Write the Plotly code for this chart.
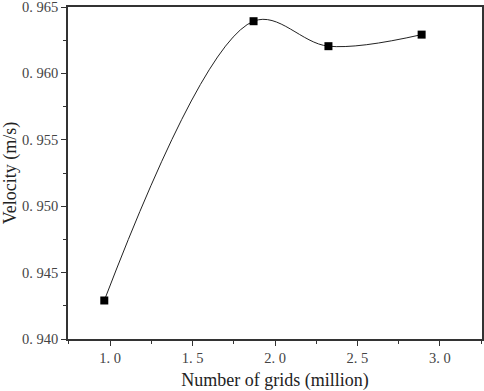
import plotly.graph_objects as go

grids = [0.965, 1.87, 2.324, 2.889]
velocity = [0.9429, 0.96393, 0.96205, 0.96292]
x_ticks = [1.0, 1.5, 2.0, 2.5, 3.0]
x_labels = ["1. 0", "1. 5", "2. 0", "2. 5", "3. 0"]
y_ticks = [0.940, 0.945, 0.950, 0.955, 0.960, 0.965]
y_labels = ["0. 940", "0. 945", "0. 950", "0. 955", "0. 960", "0. 965"]

fig = go.Figure()
fig.add_trace(go.Scatter(
    x=grids, y=velocity, mode="lines+markers",
    line=dict(color="#222222", width=1, shape="spline", smoothing=1.0),
    marker=dict(symbol="square", size=8, color="black"),
    showlegend=False, cliponaxis=False,
))

axis_common = dict(
    showline=True, linecolor="#333333", linewidth=1.5, mirror=True,
    showgrid=False, zeroline=False, ticks="outside", ticklen=5,
    tickwidth=1, tickcolor="#333333", automargin=False,
    ticklabeloverflow="allow",
    tickfont=dict(family="Liberation Serif", size=14.5, color="#444444"),
    minor=dict(ticks="outside", ticklen=3, tickcolor="#333333", showgrid=False),
)

fig.update_xaxes(
    range=[0.745, 3.255], tickvals=x_ticks, ticktext=x_labels,
    title=dict(text="Number of grids (million)", standoff=8,
               font=dict(family="Liberation Serif", size=18, color="#222222")),
    minor_dtick=0.25, **axis_common,
)
fig.update_yaxes(
    range=[0.940, 0.965], tickvals=y_ticks, ticktext=y_labels,
    title=dict(text="Velocity (m/s)", standoff=8,
               font=dict(family="Liberation Serif", size=18, color="#222222")),
    minor_dtick=0.0025, **axis_common,
)

fig.update_layout(
    width=484, height=391,
    margin=dict(l=68, r=2, t=7, b=52),
    plot_bgcolor="white", paper_bgcolor="white",
)
post = """
document.body.style.margin = '0';
document.body.style.overflow = 'hidden';
var gd = document.getElementById('{plot_id}');
Plotly.relayout(gd, {width: 484, height: 391});
"""
fig.write_html("out.html", post_script=post,
               config={"responsive": False, "displayModeBar": False})
